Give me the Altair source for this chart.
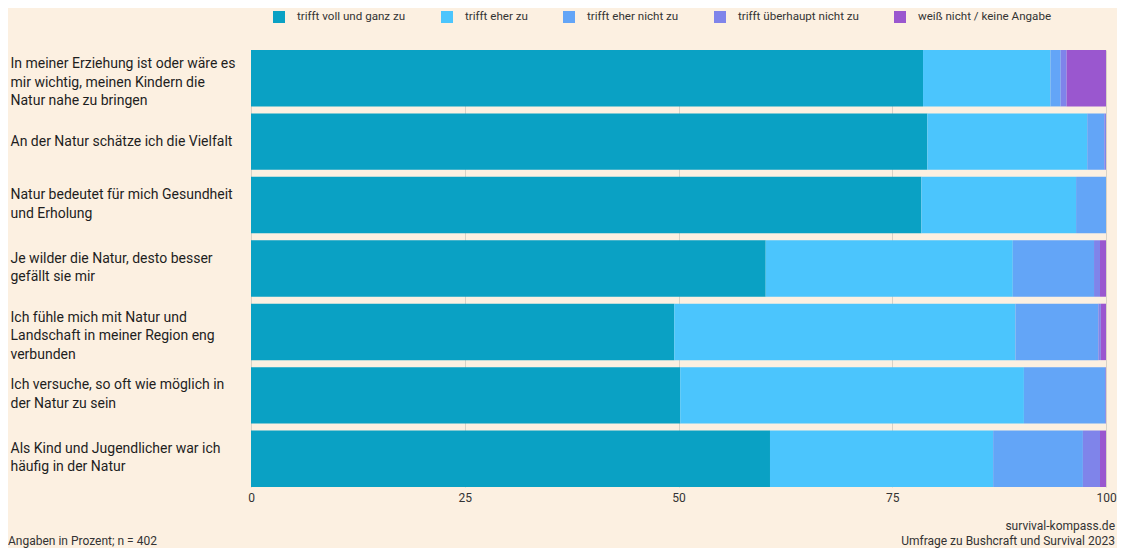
import altair as alt
import pandas as pd

categories = [
    "In meiner Erziehung ist oder wäre es|mir wichtig, meinen Kindern die|Natur nahe zu bringen",
    "An der Natur schätze ich die Vielfalt",
    "Natur bedeutet für mich Gesundheit|und Erholung",
    "Je wilder die Natur, desto besser|gefällt sie mir",
    "Ich fühle mich mit Natur und|Landschaft in meiner Region eng|verbunden",
    "Ich versuche, so oft wie möglich in|der Natur zu sein",
    "Als Kind und Jugendlicher war ich|häufig in der Natur",
]
series = [
    "trifft voll und ganz zu",
    "trifft eher zu",
    "trifft eher nicht zu",
    "trifft überhaupt nicht zu",
    "weiß nicht / keine Angabe",
]
voll = [78.6, 79.1, 78.4, 60.2, 49.5, 50.2, 60.7]
eher = [14.9, 18.7, 18.1, 28.9, 39.9, 40.2, 26.1]
eher_nicht = [1.2, 2.0, 3.5, 9.5, 9.7, 9.5, 10.5]
ueberhaupt = [0.7, 0.2, 0.0, 0.7, 0.3, 0.1, 2.0]
weiss_nicht = [4.6, 0.0, 0.0, 0.7, 0.6, 0.0, 0.7]
colors = ["#0aa1c4", "#4bc5fd", "#63a5f7", "#7f84ea", "#9a57cf"]

rows = []
for vals, s_idx in zip([voll, eher, eher_nicht, ueberhaupt, weiss_nicht], range(5)):
    for c, v in zip(categories, vals):
        rows.append({"Aussage": c, "Antwort": series[s_idx], "order": s_idx, "Wert": v})
df = pd.DataFrame(rows)

label_offset = {
    "condition": [
        {"test": "length(split(datum.value, '|')) == 3", "value": -14},
        {"test": "length(split(datum.value, '|')) == 2", "value": -10},
    ],
    "value": 0,
}

bars = alt.Chart(df).mark_bar(height={"band": 1}).encode(
    y=alt.Y("Aussage:N", sort=categories, title=None,
            scale=alt.Scale(paddingInner=0.11, paddingOuter=0),
            axis=alt.Axis(labelExpr="split(datum.label, '|')", labelAlign="left",
                          labelPadding=241, labelLimit=240, labelFontSize=14,
                          labelLineHeight=18.5, labelColor="#1e1e1e", ticks=False,
                          labelOffset=label_offset,
                          domain=False, grid=False)),
    x=alt.X("Wert:Q", stack="zero", title=None,
            scale=alt.Scale(domain=[0, 100], nice=False),
            axis=alt.Axis(values=[0, 25, 50, 75, 100], ticks=False, domain=False,
                          labelFlush=False,
                          labelFontSize=12, labelColor="#333333", labelPadding=5,
                          gridColor="#d9d2c6", gridWidth=1)),
    color=alt.Color("Antwort:N", sort=series,
                    scale=alt.Scale(domain=series, range=colors),
                    legend=alt.Legend(title=None, orient="none", direction="horizontal",
                                      columns=5, legendX=22, legendY=-39,
                                      symbolType="square", symbolSize=144,
                                      symbolStrokeWidth=0, labelFontSize=11.6,
                                      labelColor="#333333", labelOffset=12,
                                      columnPadding=35, padding=0)),
    order=alt.Order("order:Q"),
)

foot = pd.DataFrame({"t": [0]})
left_note = alt.Chart(foot).mark_text(align="left", baseline="alphabetic", fontSize=12,
                                      color="#333333").encode(
    x=alt.value(-243), y=alt.value(495), text=alt.value("Angaben in Prozent; n = 402"))
right_1 = alt.Chart(foot).mark_text(align="right", baseline="alphabetic", fontSize=12,
                                    color="#333333").encode(
    x=alt.value(864), y=alt.value(480), text=alt.value("survival-kompass.de"))
right_2 = alt.Chart(foot).mark_text(align="right", baseline="alphabetic", fontSize=12,
                                    color="#333333").encode(
    x=alt.value(864), y=alt.value(495), text=alt.value("Umfrage zu Bushcraft und Survival 2023"))

chart = alt.layer(bars, left_note, right_1, right_2).properties(
    width=855, height=437,
    autosize=alt.AutoSizeParams(type="none"),
    padding={"left": 243, "top": 42, "right": 11, "bottom": 61},
    background="#fcf0e1",
).configure(font="Roboto").configure_view(stroke=None)

chart.save("out.html", embed_options={"renderer": "svg", "actions": False})
